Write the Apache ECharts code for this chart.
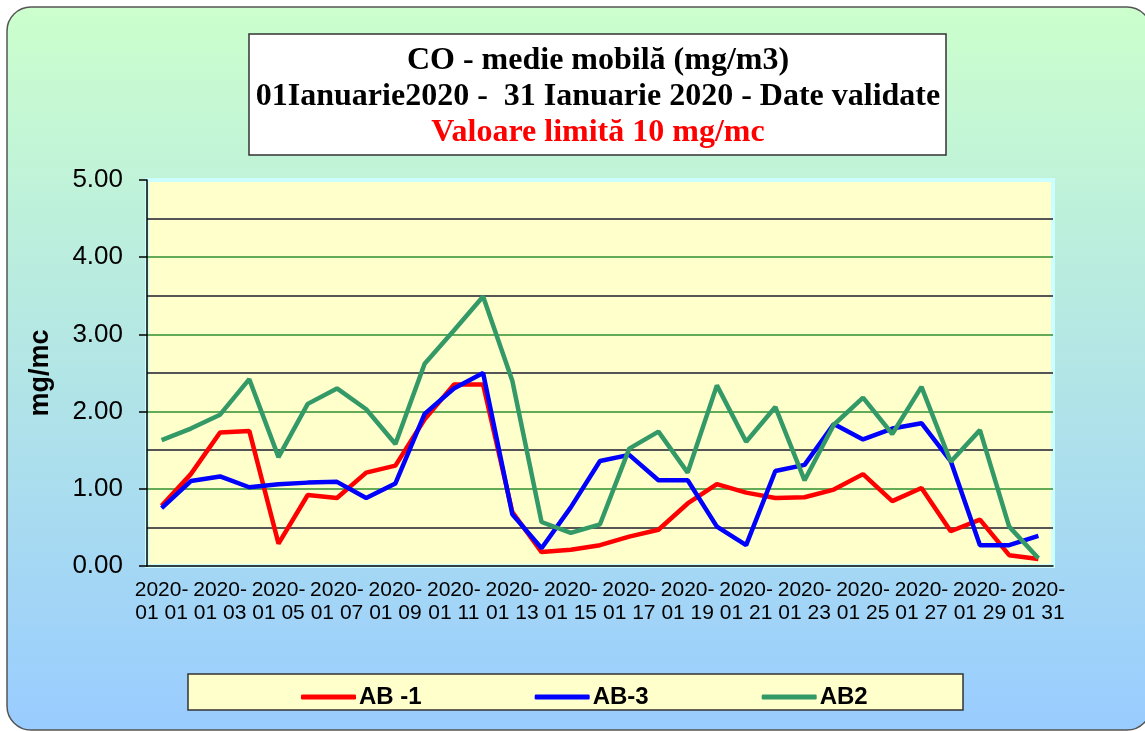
<!DOCTYPE html>
<html>
<head>
<meta charset="utf-8">
<title>CO - medie mobila</title>
<script src="https://cdn.jsdelivr.net/npm/echarts@6/dist/echarts.min.js"></script>
<style>
  html, body { margin: 0; padding: 0; background: #fff; }
  #chart { width: 1145px; height: 731px; }
</style>
</head>
<body>
<div id="chart"></div>
<script>
// zilele lunii ianuarie 2020
var days = [
  '2020-01-01', '2020-01-02', '2020-01-03', '2020-01-04', '2020-01-05', '2020-01-06',
  '2020-01-07', '2020-01-08', '2020-01-09', '2020-01-10', '2020-01-11', '2020-01-12',
  '2020-01-13', '2020-01-14', '2020-01-15', '2020-01-16', '2020-01-17', '2020-01-18',
  '2020-01-19', '2020-01-20', '2020-01-21', '2020-01-22', '2020-01-23', '2020-01-24',
  '2020-01-25', '2020-01-26', '2020-01-27', '2020-01-28', '2020-01-29', '2020-01-30',
  '2020-01-31'
];

// valori (mg/m3)
var ab1 = [0.78, 1.19, 1.73, 1.75, 0.29, 0.92, 0.88, 1.21, 1.30, 1.90, 2.35, 2.35, 0.70, 0.18, 0.21,
  0.27, 0.38, 0.47, 0.81, 1.06, 0.95, 0.88, 0.89, 0.99, 1.19, 0.84, 1.01, 0.45, 0.60, 0.14, 0.09];
var ab3 = [0.75, 1.10, 1.16, 1.02, 1.06, 1.08, 1.09, 0.88, 1.07, 1.97, 2.30, 2.50, 0.67, 0.23, 0.76,
  1.36, 1.44, 1.11, 1.11, 0.51, 0.27, 1.23, 1.31, 1.84, 1.64, 1.78, 1.85, 1.36, 0.27, 0.27, 0.39];
var ab2 = [1.63, 1.78, 1.96, 2.42, 1.41, 2.10, 2.30, 2.03, 1.58, 2.62, 3.05, 3.49, 2.40, 0.57, 0.43,
  0.54, 1.52, 1.74, 1.21, 2.34, 1.61, 2.06, 1.11, 1.83, 2.18, 1.71, 2.32, 1.35, 1.76, 0.51, 0.10];

var seriesNames = ['AB -1', 'AB-3', 'AB2'];
var seriesColors = ['#ff0000', '#0000ff', '#339966'];

var chart = echarts.init(document.getElementById('chart'));

var option = {
  animation: false,
  graphic: [
    {
      // fundalul cu colturi rotunjite
      type: 'rect',
      z: -100,
      silent: true,
      shape: { x: 7, y: 7, width: 1144, height: 723, r: 24 },
      style: {
        fill: new echarts.graphic.LinearGradient(0, 0, 0, 1, [
          { offset: 0, color: '#ccffcc' },
          { offset: 1, color: '#99ccff' }
        ]),
        stroke: '#555',
        lineWidth: 1.5
      }
    },
    {
      // caseta titlului
      type: 'rect',
      z: 50,
      silent: true,
      shape: { x: 249, y: 34, width: 697, height: 121 },
      style: { fill: '#ffffff', stroke: '#333', lineWidth: 1.5 }
    },
    {
      type: 'text',
      z: 51,
      silent: true,
      x: 598,
      y: 97,
      style: {
        text: '{t|CO - medie mobilă (mg/m3)}\n{t|01Ianuarie2020 -  31 Ianuarie 2020 - Date validate}\n{r|Valoare limită 10 mg/mc}',
        align: 'center',
        verticalAlign: 'middle',
        rich: {
          t: { fill: '#000', fontFamily: 'Liberation Serif', fontWeight: 'bold', fontSize: 32, lineHeight: 36, align: 'center' },
          r: { fill: '#ff0000', fontFamily: 'Liberation Serif', fontWeight: 'bold', fontSize: 32, lineHeight: 36, align: 'center' }
        }
      }
    },
    {
      // caseta legendei
      type: 'rect',
      z: 1,
      silent: true,
      shape: { x: 188, y: 674, width: 775, height: 36 },
      style: { fill: '#ffffcc', stroke: '#333', lineWidth: 1.5 }
    }
  ],
  legend: {
    left: 296,
    top: 680,
    icon: 'roundRect',
    itemWidth: 55,
    itemHeight: 5,
    itemGap: 113,
    data: seriesNames,
    textStyle: {
      fontFamily: 'Liberation Sans',
      fontWeight: 'bold',
      fontSize: 24,
      color: '#000',
      padding: [0, 0, 0, -2]
    }
  },
  grid: {
    left: 147,
    right: 92,
    top: 180,
    bottom: 165,
    show: true,
    backgroundColor: '#ffffcc',
    borderColor: '#ccffff',
    borderWidth: 4,
    outerBoundsMode: 'none'
  },
  xAxis: {
    type: 'category',
    data: days,
    boundaryGap: true,
    axisLine: { lineStyle: { color: '#000', width: 1.5 } },
    axisTick: { interval: 0, length: 6, lineStyle: { color: '#444', width: 1.5 } },
    axisLabel: {
      interval: 1,
      margin: 13,
      color: '#000',
      fontFamily: 'Liberation Sans',
      fontSize: 21,
      lineHeight: 23,
      formatter: function (v) {
        return v.replace('2020-01-', '2020-\n01 ');
      }
    },
    splitLine: { show: false }
  },
  yAxis: {
    type: 'value',
    min: 0,
    max: 5,
    interval: 1,
    name: 'mg/mc',
    nameLocation: 'middle',
    nameGap: 93,
    nameRotate: 90,
    nameTextStyle: { fontFamily: 'Liberation Sans', fontWeight: 'bold', fontSize: 27, color: '#000' },
    axisLine: { show: true, lineStyle: { color: '#000', width: 1.5 } },
    axisTick: { show: true, length: 8, lineStyle: { color: '#000', width: 1.5 } },
    axisLabel: {
      margin: 24,
      color: '#000',
      fontFamily: 'Liberation Sans',
      fontSize: 26,
      formatter: function (v) { return v.toFixed(2); }
    },
    splitLine: {
      show: true,
      showMinLine: false,
      showMaxLine: false,
      lineStyle: { color: '#2f8f2f', width: 1.5 }
    },
    minorTick: { show: false, splitNumber: 2 },
    minorSplitLine: { show: true, lineStyle: { color: '#555', width: 2 } }
  },
  series: [
    { name: seriesNames[0], type: 'line', data: ab1, symbol: 'none', color: seriesColors[0], lineStyle: { width: 4.5, color: seriesColors[0] } },
    { name: seriesNames[1], type: 'line', data: ab3, symbol: 'none', color: seriesColors[1], lineStyle: { width: 4.5, color: seriesColors[1] } },
    { name: seriesNames[2], type: 'line', data: ab2, symbol: 'none', color: seriesColors[2], lineStyle: { width: 4.5, color: seriesColors[2] } }
  ]
};

chart.setOption(option);
</script>
</body>
</html>
